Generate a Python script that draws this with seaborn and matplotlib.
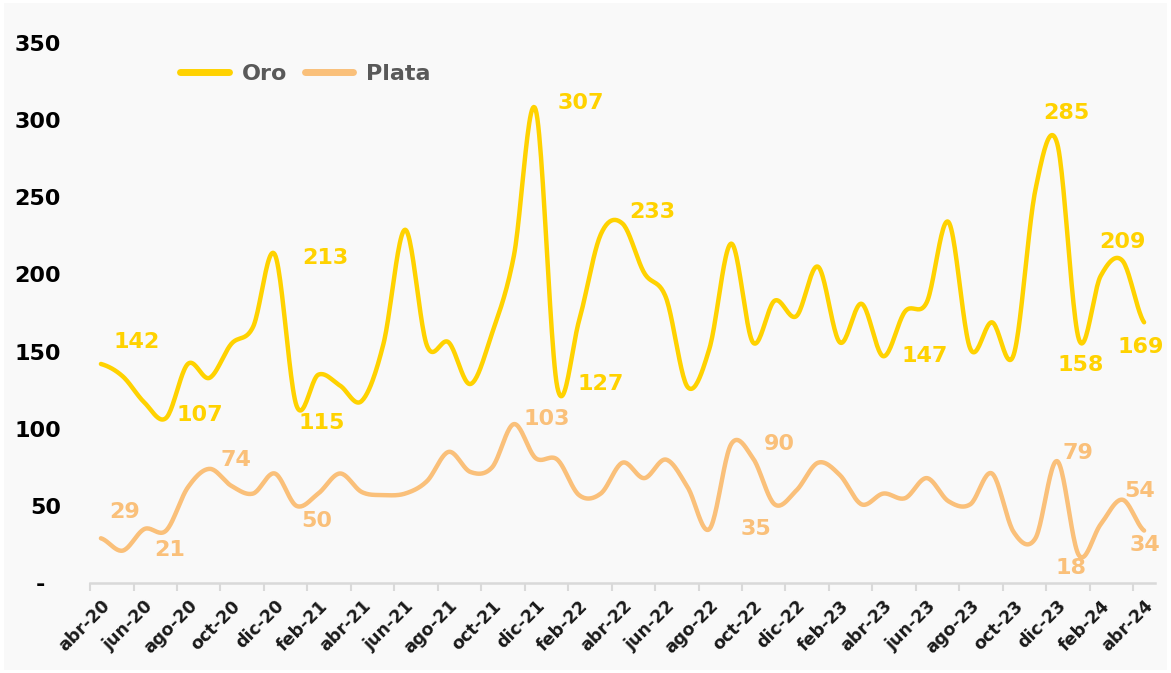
import matplotlib
matplotlib.use("Agg")
import matplotlib.pyplot as plt
from matplotlib.lines import Line2D
import seaborn as sns
import numpy as np
import pandas as pd

# Monthly series, abr-20 .. abr-24
meses = ["abr", "may", "jun", "jul", "ago", "sep", "oct", "nov", "dic", "ene", "feb", "mar"]
periodos = []
anio = 20
for k in range(49):
    m = meses[k % 12]
    if m == "ene":
        anio += 1
    periodos.append(f"{m}-{anio}")

oro = [142, 134, 117, 107, 142, 133, 155, 166, 213, 115, 135, 128, 118, 155, 229, 154,
       156, 129, 162, 212, 307, 127, 170, 226, 233, 201, 185, 127, 152, 220, 156, 183,
       173, 205, 156, 181, 147, 176, 182, 234, 152, 169, 148, 255, 285, 158, 199, 209, 169]
plata = [29, 21, 35, 34, 62, 74, 63, 58, 71, 50, 58, 71, 59, 57, 58, 66,
         85, 72, 75, 103, 81, 80, 57, 58, 78, 68, 80, 62, 35, 90, 81, 51,
         60, 78, 70, 51, 58, 55, 68, 53, 51, 71, 33, 29, 79, 18, 38, 54, 34]

# labelled points: index -> offset of the label in pixels (dx, dy)
etiquetas_oro = {0: (36, 22), 3: (34, 3), 8: (51, -4), 9: (25, -17), 20: (45, 6),
                 21: (43, 3), 24: (30, 12), 36: (41, 0), 44: (9, 30), 45: (2, -26),
                 47: (0, 19), 48: (-3, -25)}
etiquetas_plata = {0: (24, 26), 1: (47, 1), 5: (26, 9), 9: (20, -15), 19: (33, 5),
                   28: (47, 0), 29: (48, 0), 44: (21, 8), 45: (-8, -13), 47: (17, 9),
                   48: (1, -14)}

color_oro = "#FFD200"
color_plata = "#FAC07A"


def suavizar(valores, n=24):
    """Excel-like smoothed line (cubic Bezier through every point)"""
    v = np.asarray(valores, float)
    p = np.concatenate([[v[0]], v, [v[-1]]])
    xs, ys = [], []
    t = np.linspace(0, 1, n, endpoint=False)
    for i in range(len(v) - 1):
        p0, p1, p2, p3 = p[i], p[i + 1], p[i + 2], p[i + 3]
        b1 = p1 + (p2 - p0) / 6
        b2 = p2 - (p3 - p1) / 6
        ys.append((1 - t) ** 3 * p1 + 3 * (1 - t) ** 2 * t * b1 + 3 * (1 - t) * t ** 2 * b2 + t ** 3 * p2)
        xs.append(i + t)
    xs.append([len(v) - 1])
    ys.append([v[-1]])
    return np.concatenate(xs), np.concatenate(ys)


sns.set_theme(style="white")
plt.rcParams['font.family'] = ['DejaVu Sans']

fig = plt.figure(figsize=(11.71, 6.73), dpi=100)
fig.patch.set_facecolor("white")
fig.patches.append(plt.Rectangle((0.003, 0.004), 0.994, 0.992, transform=fig.transFigure,
                                 facecolor="#F9F9F9", edgecolor="none", zorder=-10))
ax = fig.add_axes([0.0769, 0.1337, 0.9094, 0.8023])
ax.set_facecolor("none")

frames = []
for nombre, serie in [("Oro", oro), ("Plata", plata)]:
    xs, ys = suavizar(serie)
    frames.append(pd.DataFrame({"pos": xs, "valor": ys, "serie": nombre}))
df = pd.concat(frames, ignore_index=True)

sns.lineplot(data=df, x="pos", y="valor", hue="serie", palette={"Oro": color_oro, "Plata": color_plata},
             estimator=None, sort=False, linewidth=3.2, legend=False, ax=ax)
for ln in ax.lines:
    ln.set_solid_capstyle("round")

# data labels
for serie, etiquetas, color in [(oro, etiquetas_oro, color_oro), (plata, etiquetas_plata, color_plata)]:
    for i, (dx, dy) in etiquetas.items():
        ax.annotate(str(serie[i]), (i, serie[i]), xytext=(dx, dy), textcoords="offset pixels",
                    ha="center", va="center", fontsize=16, fontweight="bold", color=color)

# axes
ax.set_xlim(-0.5, 48.5)
ax.set_ylim(0, 350)
ax.set_yticks(range(0, 351, 50))
ax.set_yticklabels(["-  "] + [str(v) for v in range(50, 351, 50)], fontsize=16, fontweight="bold", color="black")
ax.set_xticks(range(0, 49, 2))
ax.set_xticklabels(periodos[::2], rotation=45, ha="right", va="top", rotation_mode="anchor",
                   fontsize=12.5, fontweight="bold", color="#1A1A1A")
ax.set_xticks(np.arange(-0.5, 48, 2), minor=True)
ax.tick_params(axis="x", which="major", length=0, pad=10)
ax.tick_params(axis="x", which="minor", length=6, width=1.5, color="#D9D9D9", direction="out", bottom=True)
ax.tick_params(axis="y", length=0, pad=21)
ax.set_xlabel("")
ax.set_ylabel("")
ax.grid(False)
for s in ["top", "right", "left"]:
    ax.spines[s].set_visible(False)
ax.spines["bottom"].set_color("#D9D9D9")
ax.spines["bottom"].set_linewidth(1.8)

handles = [Line2D([], [], color=color_oro, lw=5, solid_capstyle="round"),
           Line2D([], [], color=color_plata, lw=5, solid_capstyle="round")]
leg = ax.legend(handles, ["Oro", "Plata"], loc="upper left", bbox_to_anchor=(0.066, 0.998), ncol=2,
                frameon=False, handlelength=2.2, handletextpad=0.55, columnspacing=0.8,
                prop={"size": 16, "weight": "bold"})
for txt in leg.get_texts():
    txt.set_color("#595959")

fig.savefig("out.png", dpi=100, facecolor=fig.get_facecolor())
